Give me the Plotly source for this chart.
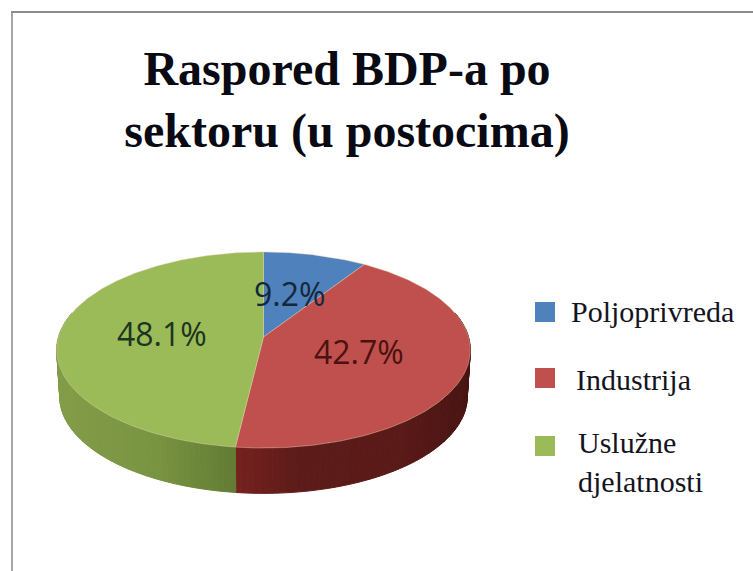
import numpy as np
import plotly.graph_objects as go

# ---- data ----
categories = ["Poljoprivreda", "Industrija", "Uslužne djelatnosti"]
shares = [9.2, 42.7, 48.1]
legend_labels = ["Poljoprivreda", "Industrija", "Uslužne<br>djelatnosti"]
title_text = "Raspored BDP-a po<br>sektoru (u postocima)"

# ---- style ----
top_colors = ["#4f81bd", "#c0504d", "#9bbb59"]
label_colors = ["#14283c", "#4a1210", "#1c3420"]
side_stops = [
    None,
    [(235, (118, 33, 30)), (300, (92, 27, 25)), (400, (90, 26, 24)), (470, (72, 20, 18))],
    [(55, (130, 156, 72)), (150, (122, 149, 66)), (235, (98, 124, 52))],
]
APEX_X, APEX_Y = 263.5, 337.0      # pixel position of the pie centre
SCALE_X, SCALE_Y, PERSP = 205.0, 96.3, 0.1327
DEPTH, BASE_SCALE = 47.0, 0.985
label_xy = [(289, 293), (359, 351), (162, 333)]
legend_y = [312, 378, 446]
legend_text_x = [569, 574, 576]
legend_text_y = [311, 379, 462]


def project(theta_deg, drop=0.0, scale=1.0):
    """Clockwise-from-top angle on the disc -> pixel position with perspective."""
    t = np.radians(theta_deg)
    u, v = np.sin(t), np.cos(t)
    w = 1 + PERSP * v
    return APEX_X + SCALE_X * scale * u / w, APEX_Y - SCALE_Y * scale * v / w + drop


def shade(stops, x):
    xs = [s[0] for s in stops]
    rgb = [int(round(np.interp(x, xs, [s[1][i] for s in stops]))) for i in range(3)]
    return f"rgb({rgb[0]},{rgb[1]},{rgb[2]})"


edges = np.concatenate([[0], np.cumsum(shares)]) / sum(shares) * 360
fig = go.Figure()

# side wall, drawn as narrow shaded bands following the slice angles
for i in range(len(shares)):
    if side_stops[i] is None:
        continue
    lo, hi = max(edges[i], 75), min(edges[i + 1], 285)
    if hi <= lo:
        continue
    cuts = np.linspace(lo, hi, int((hi - lo) / 1.5) + 2)
    for a, b in zip(cuts[:-1], cuts[1:]):
        ts = np.array([a, b])
        x1, y1 = project(ts)
        x2, y2 = project(ts[::-1], DEPTH, BASE_SCALE)
        col = shade(side_stops[i], float(x1.mean()))
        fig.add_trace(go.Scatter(
            x=np.r_[x1, x2, x1[0]], y=np.r_[y1, y2, y1[0]], mode="lines",
            fill="toself", fillcolor=col, line=dict(color=col, width=1),
            hoverinfo="skip", showlegend=False))

# top face of the pie
for i, name in enumerate(categories):
    ts = np.linspace(edges[i], edges[i + 1], 200)
    x, y = project(ts)
    fig.add_trace(go.Scatter(
        x=np.r_[APEX_X, x, APEX_X], y=np.r_[APEX_Y, y, APEX_Y], mode="lines",
        fill="toself", fillcolor=top_colors[i],
        line=dict(color="rgba(225,205,170,0.4)", width=1),
        name=name, hoverinfo="name", showlegend=False))

# percentage labels
for i, v in enumerate(shares):
    fig.add_annotation(x=label_xy[i][0], y=label_xy[i][1], text=f"{v}%", showarrow=False,
                       font=dict(family="Open Sans", size=32, color=label_colors[i]))

# legend
fig.add_trace(go.Scatter(
    x=[545, 545, 545], y=legend_y, mode="markers",
    marker=dict(symbol="square", size=20, color=top_colors), text=categories,
    hoverinfo="text", showlegend=False))
for i, lab in enumerate(legend_labels):
    fig.add_annotation(x=legend_text_x[i], y=legend_text_y[i], text=lab, showarrow=False,
                       xanchor="left", align="left",
                       font=dict(family="Liberation Serif", size=30, color="#14141e"))

# frame of the original picture
fig.add_shape(type="line", x0=12, x1=12, y0=571, y1=12, line=dict(color="#a6a6a6", width=2))
fig.add_shape(type="line", x0=11, x1=753, y0=12, y1=12, line=dict(color="#8c8c8c", width=2))

fig.update_layout(
    width=753, height=571, margin=dict(l=0, r=0, t=0, b=0),
    paper_bgcolor="white", plot_bgcolor="white", showlegend=False,
    title=dict(text=title_text, x=347 / 753, xanchor="center", y=1 - 85 / 571, yanchor="middle",
               font=dict(family="Liberation Serif", size=48, color="#0a0a14", weight="bold")),
    xaxis=dict(range=[0, 753], visible=False, fixedrange=True),
    yaxis=dict(range=[571, 0], visible=False, fixedrange=True),
)
fig.write_html("out.html", config=dict(displayModeBar=False),
               post_script="document.body.style.margin='0';")
